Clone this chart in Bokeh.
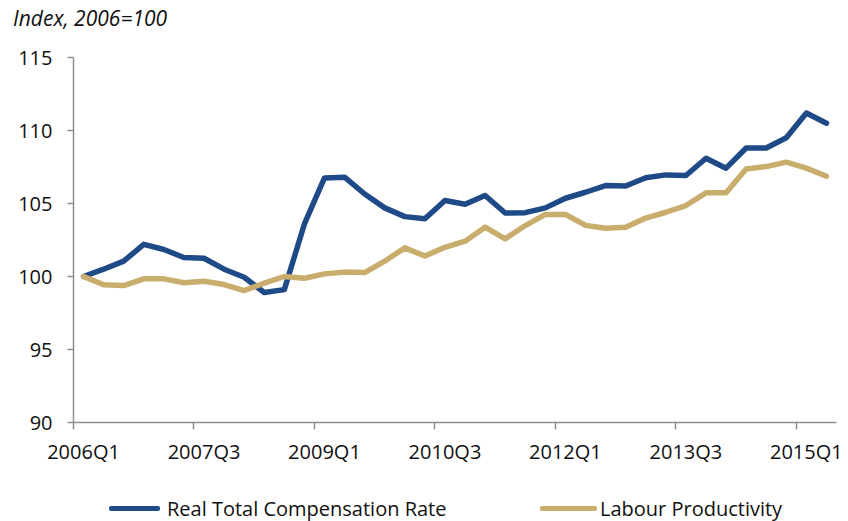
from bokeh.plotting import figure
from bokeh.models import Range1d, FixedTicker, Div
from bokeh.layouts import column
from bokeh.embed import file_html
from bokeh.resources import INLINE
import numpy as np

quarters = ["2006Q1", "2006Q2", "2006Q3", "2006Q4", "2007Q1", "2007Q2", "2007Q3", "2007Q4",
            "2008Q1", "2008Q2", "2008Q3", "2008Q4", "2009Q1", "2009Q2", "2009Q3", "2009Q4",
            "2010Q1", "2010Q2", "2010Q3", "2010Q4", "2011Q1", "2011Q2", "2011Q3", "2011Q4",
            "2012Q1", "2012Q2", "2012Q3", "2012Q4", "2013Q1", "2013Q2", "2013Q3", "2013Q4",
            "2014Q1", "2014Q2", "2014Q3", "2014Q4", "2015Q1", "2015Q2"]

compensation = [100.0, 100.5, 101.05, 102.2, 101.85, 101.3, 101.25, 100.5, 99.95, 98.9,
                99.1, 103.6, 106.75, 106.8, 105.65, 104.7, 104.1, 103.95, 105.2, 104.95,
                105.55, 104.35, 104.37, 104.7, 105.36, 105.77, 106.23, 106.2, 106.76, 106.96,
                106.92, 108.1, 107.42, 108.8, 108.8, 109.5, 111.2, 110.5]

productivity = [100.0, 99.43, 99.38, 99.84, 99.84, 99.57, 99.68, 99.45, 99.04, 99.54,
                100.0, 99.88, 100.18, 100.3, 100.27, 101.05, 101.96, 101.4, 102.0, 102.42,
                103.38, 102.58, 103.49, 104.25, 104.25, 103.5, 103.3, 103.38, 104.0, 104.4,
                104.86, 105.73, 105.73, 107.37, 107.53, 107.83, 107.42, 106.87]

tick_labels = ["2006Q1", "2007Q3", "2009Q1", "2010Q3", "2012Q1", "2013Q3", "2015Q1"]
y_ticks = [90, 95, 100, 105, 110, 115]

series_names = ["Real Total Compensation Rate", "Labour Productivity"]
colors = ["#1F4A88", "#C8AD6C"]
title_text = "Index, 2006=100"

FONT = "Open Sans"
AXIS_COLOR = "#8E8E8E"
TEXT_COLOR = "#111111"
LINE_W = 5.5

n = len(quarters)
xs = np.arange(n) + 0.5

# ---- title (top strip) ----
title_div = Div(
    text=('<div style="font-family:\'Open Sans\';font-style:italic;font-size:21px;'
          'line-height:28px;color:%s;padding:4px 0 0 13px;white-space:nowrap;">%s</div>'
          % (TEXT_COLOR, title_text)),
    width=848, height=40, margin=0)

# ---- main chart ----
p = figure(frame_width=763, frame_height=365, output_backend="svg", toolbar_location=None,
           x_range=Range1d(0, n), y_range=Range1d(90, 115),
           min_border_left=73, min_border_right=12, min_border_top=17, min_border_bottom=40,
           margin=0)
p.outline_line_color = None
p.xgrid.visible = False
p.ygrid.visible = False

for vals, col in zip([compensation, productivity], colors):
    p.line(xs, vals, line_color=col, line_width=LINE_W, line_join="round", line_cap="round")

# x axis: labels at category centres, tick marks at category boundaries
label_pos = [quarters.index(t) + 0.5 for t in tick_labels]
bound_pos = [quarters.index(t) for t in tick_labels]
xa = p.xaxis[0]
xa.ticker = FixedTicker(ticks=label_pos, minor_ticks=bound_pos)
xa.major_label_overrides = {pos: lab for pos, lab in zip(label_pos, tick_labels)}
xa.major_tick_line_color = None
xa.major_tick_out = 0
xa.major_tick_in = 0
xa.minor_tick_out = 7
xa.minor_tick_in = 0
xa.minor_tick_line_color = AXIS_COLOR
xa.minor_tick_line_width = 1.5
xa.axis_line_color = AXIS_COLOR
xa.axis_line_width = 1.5
xa.major_label_standoff = 8
xa.major_label_text_font = FONT
xa.major_label_text_font_size = "20px"
xa.major_label_text_color = TEXT_COLOR

ya = p.yaxis[0]
ya.ticker = FixedTicker(ticks=y_ticks)
ya.major_tick_out = 6
ya.major_tick_in = 0
ya.minor_tick_line_color = None
ya.major_tick_line_color = AXIS_COLOR
ya.major_tick_line_width = 1.5
ya.axis_line_color = AXIS_COLOR
ya.axis_line_width = 1.5
ya.major_label_standoff = 15
ya.major_label_text_font = FONT
ya.major_label_text_font_size = "20px"
ya.major_label_text_color = TEXT_COLOR

# ---- legend strip (below the chart) ----
swatch_left = [109, 540]
swatch_len = [51, 57]
label_left = [167, 600]
parts = []
for name, col, sl, sw, ll in zip(series_names, colors, swatch_left, swatch_len, label_left):
    parts.append('<div style="position:absolute;left:%dpx;top:39px;width:%dpx;height:5px;'
                 'border-radius:2px;background:%s;"></div>' % (sl, sw, col))
    parts.append('<div style="position:absolute;left:%dpx;top:30px;line-height:24px;'
                 'white-space:nowrap;">%s</div>' % (ll, name))
legend_div = Div(
    text=('<div style="position:relative;width:848px;height:55px;font-family:\'Open Sans\';'
          'font-size:20px;color:%s;">%s</div>' % (TEXT_COLOR, "".join(parts))),
    width=848, height=55, margin=0)

layout = column(title_div, p, legend_div, spacing=0, margin=0)
open("out.html", "w").write(file_html(layout, INLINE))
